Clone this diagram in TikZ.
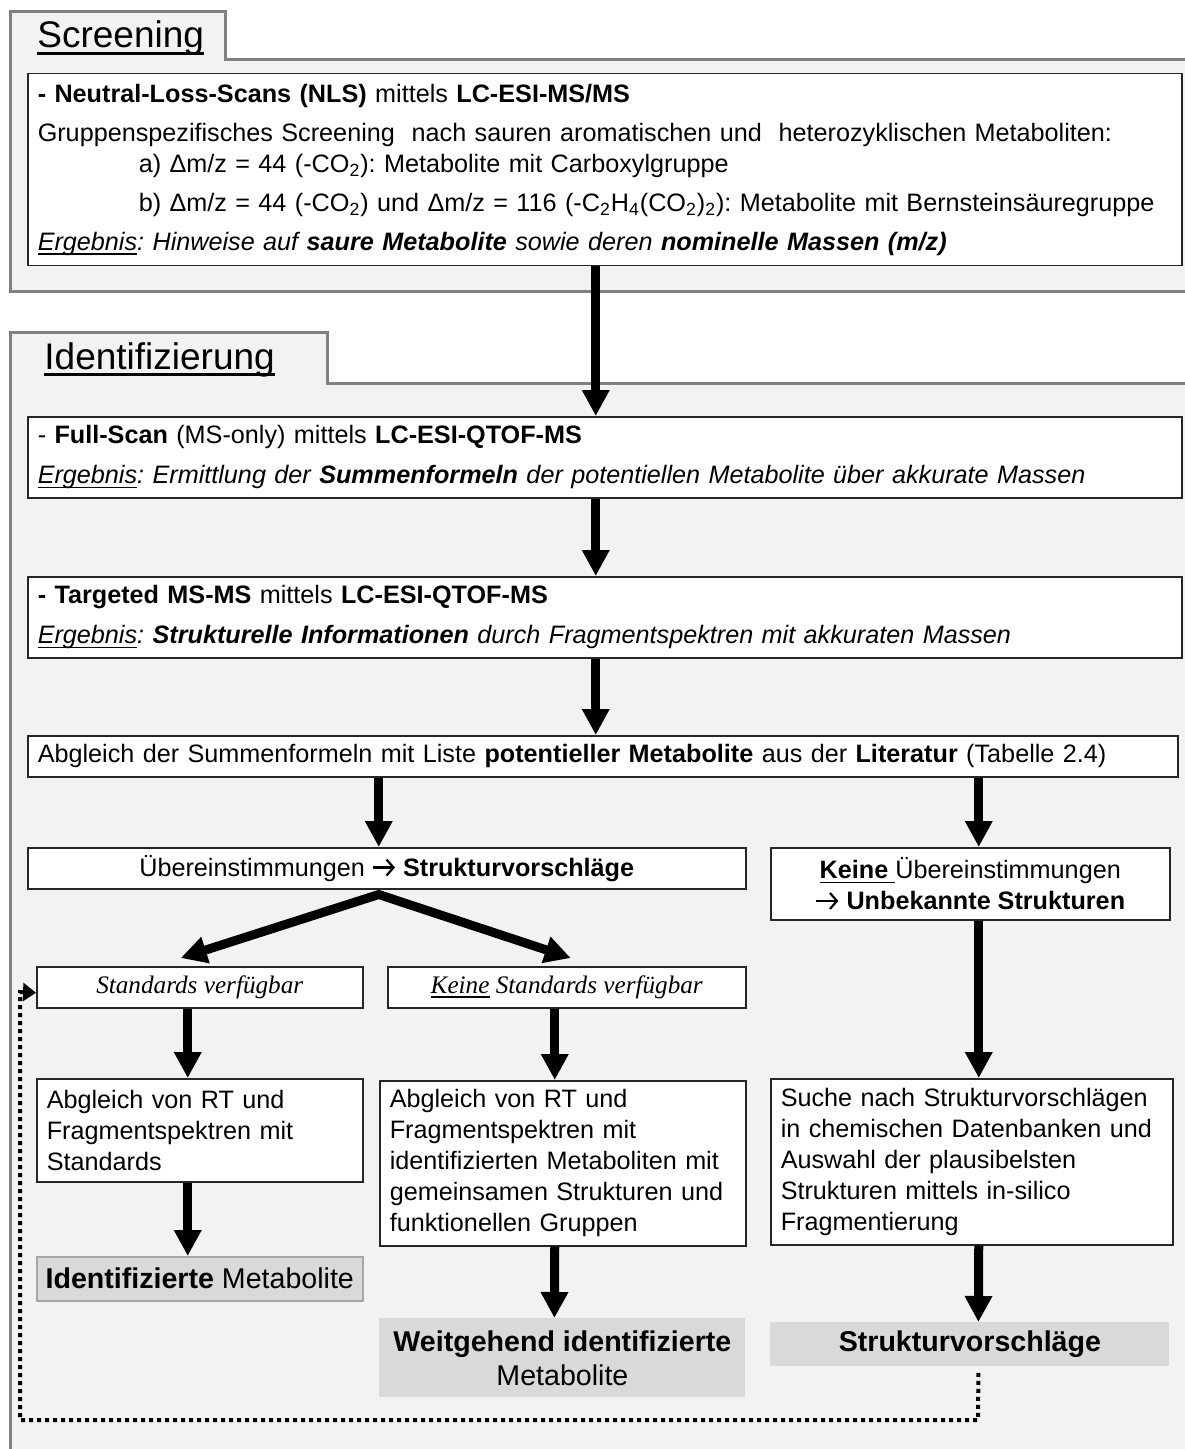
\documentclass[tikz,border=0pt]{standalone}
\usepackage{fontspec}
\setmainfont{Liberation Sans}
\newfontfamily\serifit{Liberation Serif}
\usetikzlibrary{arrows.meta}
\definecolor{panelfill}{HTML}{F2F2F2}
\definecolor{panelline}{HTML}{808080}
\definecolor{resfill}{HTML}{D9D9D9}
\definecolor{resline}{HTML}{A6A6A6}
\newcommand\myul[1]{\setbox0\hbox{#1}\rlap{\rule[-2.2pt]{\wd0}{0.7pt}}\box0\relax}
\newcommand\rarr{\tikz[baseline=0pt]\draw[line width=1.1pt,-{Straight Barb[length=3.5pt,width=8pt]}] (0pt,4.3pt) -- (11pt,4.3pt);}
\frenchspacing
\begin{document}
\begin{tikzpicture}[x=0.5pt,y=-0.5pt,
 box/.style={draw=black!85, line width=0.75pt, fill=white, inner xsep=5pt, inner ysep=0pt, anchor=north west, font=\fontsize{12.6}{15.5}\selectfont},
 lbox/.style={box, align=left},
 cbox/.style={box, align=center},
 resbox/.style={fill=resfill, inner sep=0pt, anchor=north west, align=center, font=\fontsize{14.3}{17}\selectfont},
 arr/.style={line width=4.5pt, -{Triangle[width=13pt,length=13pt]}},
 darr/.style={line width=4.5pt, {Triangle[width=13pt,length=13pt]}-{Triangle[width=13pt,length=13pt]}},
 dotarr/.style={line width=2pt, dash pattern=on 2pt off 2pt, -{Triangle[width=9pt,length=6.5pt]}},
 panel/.style={fill=panelfill, draw=panelline, line width=1.5pt},
 head/.style={font=\fontsize{18.5}{22}\selectfont, inner sep=0pt, anchor=base west},
 uline/.style={line width=1.3pt}
]
\useasboundingbox[fill=white] (0,0) rectangle (1184,1449);
% panels
\path[panel] (10,292) -- (10,12) -- (225,12) -- (225,60) -- (1195,60) -- (1195,292) -- cycle;
\path[panel] (10,1460) -- (10,333) -- (327,333) -- (327,383) -- (1195,383) -- (1195,1460) -- cycle;
\node[head] (hs) at (37,48) {Screening};
\draw[uline] ([yshift=-2.8pt]hs.base west) -- ([yshift=-2.8pt]hs.base east);
\node[head] (hi) at (44,369) {Identifizierung};
\draw[uline] ([yshift=-2.8pt]hi.base west) -- ([yshift=-2.8pt]hi.base east);
% boxes
\node[lbox, minimum width=577pt, minimum height=96pt, text width=567pt, font=\fontsize{12.6}{19.5}\selectfont] (scr) at (27,73) {%
\textbf{- Neutral-Loss-Scans (NLS)} mittels \textbf{LC-ESI-MS/MS}\\
Gruppenspezifisches Screening\ \ nach sauren aromatischen und\ \ heterozyklischen Metaboliten:\\[-4pt]
\hspace*{50.5pt}a) Δm/z = 44 (-CO\textsubscript{2}): Metabolite mit Carboxylgruppe\\
\hspace*{50.5pt}b) Δm/z = 44 (-CO\textsubscript{2}) und Δm/z = 116 (-C\textsubscript{2}H\textsubscript{4}(CO\textsubscript{2})\textsubscript{2}): Metabolite mit Bernsteinsäuregruppe\\
\textit{\myul{Ergebnis}: Hinweise auf \textbf{saure Metabolite} sowie deren \textbf{nominelle Massen (m/z)}}};
\node[lbox, minimum width=577pt, minimum height=40.5pt, text width=567pt, font=\fontsize{12.6}{20}\selectfont] (full) at (27,416) {%
- \textbf{Full-Scan} (MS-only) mittels \textbf{LC-ESI-QTOF-MS}\\
\textit{\myul{Ergebnis}: Ermittlung der \textbf{Summenformeln} der potentiellen Metabolite über akkurate Massen}};
\node[lbox, minimum width=577pt, minimum height=40.5pt, text width=567pt, font=\fontsize{12.6}{20}\selectfont] (targ) at (27,576) {%
\textbf{- Targeted MS-MS} mittels \textbf{LC-ESI-QTOF-MS}\\
\textit{\myul{Ergebnis}: \textbf{Strukturelle Informationen} durch Fragmentspektren mit akkuraten Massen}};
\node[lbox, minimum width=575pt, minimum height=20.5pt, text width=565pt] (abgl) at (27,735) {%
Abgleich der Summenformeln mit Liste \textbf{potentieller Metabolite} aus der \textbf{Literatur} (Tabelle 2.4)};
\node[cbox, minimum width=359pt, minimum height=20.5pt] (ueber) at (27,847) {Übereinstimmungen \rarr{} \textbf{Strukturvorschläge}};
\node[cbox, minimum width=199.5pt, minimum height=36pt] (kueber) at (770,847) {\myul{\textbf{Keine }}Übereinstimmungen\\ \rarr{} \textbf{Unbekannte Strukturen}};
\node[cbox, minimum width=163pt, minimum height=20.5pt, font=\serifit\itshape\fontsize{12.6}{15}\selectfont] (std) at (36,966) {Standards verfügbar};
\node[cbox, minimum width=179pt, minimum height=20.5pt, font=\serifit\itshape\fontsize{12.6}{15}\selectfont] (kstd) at (387,966) {\myul{Keine} Standards verfügbar};
\node[lbox, minimum width=163pt, minimum height=51.5pt, text width=153pt] (rt1) at (36,1078) {Abgleich von RT und\\Fragmentspektren mit\\Standards};
\node[lbox, minimum width=183pt, minimum height=82.5pt, text width=173pt] (rt2) at (379,1080) {Abgleich von RT und\\Fragmentspektren mit\\identifizierten Metaboliten mit\\gemeinsamen Strukturen und\\funktionellen Gruppen};
\node[lbox, minimum width=201pt, minimum height=83pt, text width=191pt] (suche) at (770,1078) {Suche nach Strukturvorschlägen\\in chemischen Datenbanken und\\Auswahl der plausibelsten\\Strukturen mittels in-silico\\Fragmentierung};
\node[resbox, draw=resline, line width=0.75pt, minimum width=163pt, minimum height=22pt] (idm) at (36,1256) {\textbf{Identifizierte} Metabolite};
\node[resbox, minimum width=183pt, minimum height=39.5pt] (weit) at (379,1318) {\textbf{Weitgehend identifizierte}\\Metabolite};
\node[resbox, minimum width=199.5pt, minimum height=22pt] (struk) at (770,1322) {\textbf{Strukturvorschläge}};
% arrows
\draw[arr] ([xshift=-4.5pt]scr.south) -- ([xshift=-4.5pt]full.north);
\draw[arr] ([xshift=-4.5pt]full.south) -- ([xshift=-4.5pt]targ.north);
\draw[arr] ([xshift=-4.5pt]targ.south) -- ([xshift=-3.5pt]abgl.north);
\draw[arr] ([xshift=-112pt]abgl.south) -- ([xshift=-4pt]ueber.north);
\draw[arr] ([xshift=188pt]abgl.south) -- ([xshift=4.25pt]kueber.north);
\draw[darr] ([xshift=-9.5pt,yshift=4pt]std.north) -- ([xshift=-4pt,yshift=-2.5pt]ueber.south) -- ([xshift=2pt,yshift=4pt]kstd.north);
\draw[arr] ([xshift=-6pt]std.south) -- ([xshift=-6pt]rt1.north);
\draw[arr] ([xshift=-6pt]kstd.south) -- ([xshift=-4pt]rt2.north);
\draw[arr] ([xshift=4.25pt]kueber.south) -- ([xshift=3.5pt]suche.north);
\draw[arr] ([xshift=-6pt]rt1.south) -- ([xshift=-6pt]idm.north);
\draw[arr] ([xshift=-4pt]rt2.south) -- ([xshift=-4pt]weit.north);
\draw[arr] ([xshift=3.5pt]suche.south) -- ([xshift=4.25pt]struk.north);
% dotted feedback
\coordinate (d1) at (978,1420);
\coordinate (d2) at (20,1420);
\coordinate (d3) at (20,992);
\draw[dotarr] ([xshift=4.25pt,yshift=-3pt]struk.south) -- (d1) -- (d2) -- (d3) -- ([yshift=-2.75pt]std.west);
\end{tikzpicture}
\end{document}
